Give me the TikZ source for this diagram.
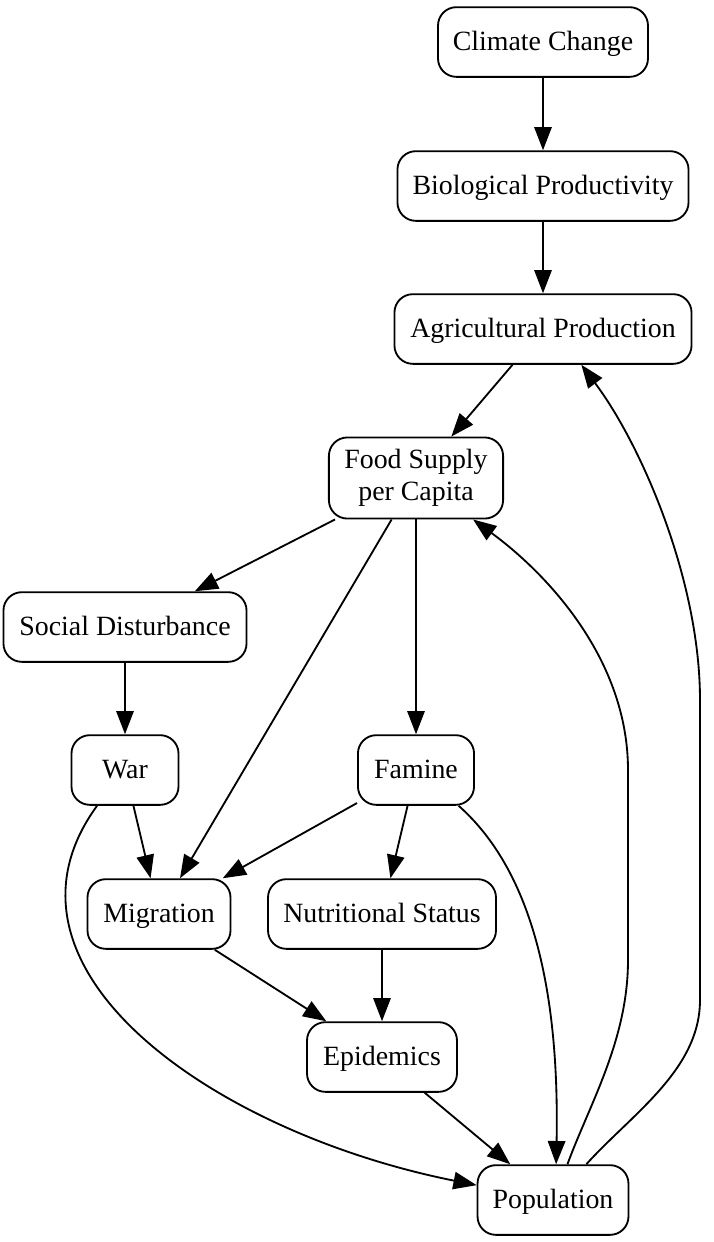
\documentclass[tikz,border=0pt]{standalone}
\usepackage{fontspec}
\setmainfont{Liberation Serif}
\usepackage{tikz}
\usetikzlibrary{arrows.meta,positioning,calc}

\begin{document}
\begin{tikzpicture}[
    x=0.5167pt, y=-0.5167pt,
    factor/.style={draw, rounded corners=9.5pt, minimum height=36pt, minimum width=#1, align=center, font=\fontsize{14.4}{16.5}\selectfont, text height=11.5pt, text depth=2.3pt, line width=0.95pt},
    edge/.style={-{Triangle[length=12pt, width=9pt]}, line width=0.95pt}
]
\useasboundingbox (0,0) rectangle (714,1242);

\node[factor=108.5pt] (climate) at (543,42) {Climate Change};
\node[factor=150.4pt] (bioprod) at (543,186) {Biological Productivity};
\node[factor=153.5pt] (agriprod) at (543,329) {Agricultural Production};
\node[factor=90pt, minimum height=41.9pt, text height=, text depth=] (food) at (416,478) {Food Supply\\per Capita};
\node[factor=125.6pt] (social) at (125,627) {Social Disturbance};
\node[factor=55.3pt] (war) at (125,770) {War};
\node[factor=60pt] (famine) at (416,770) {Famine};
\node[factor=73.9pt] (migration) at (159,914) {Migration};
\node[factor=117.8pt] (nutrition) at (382,914) {Nutritional Status};
\node[factor=77.5pt] (epidemics) at (382,1057) {Epidemics};
\node[factor=78pt] (population) at (553,1200) {Population};

\coordinate (popFoodA) at (628,960);
\coordinate (popFoodB) at (628,770);
\coordinate (popAgriA) at (700,1000);
\coordinate (popAgriB) at (700,700);

\draw[edge] (climate) -- (bioprod);
\draw[edge] (bioprod) -- (agriprod);
\draw[edge] (agriprod) -- (food);
\draw[edge] (food) -- (social);
\draw[edge] (food) -- (migration);
\draw[edge] (food) -- (famine);
\draw[edge] (social) -- (war);
\draw[edge] (war) -- (migration);
\draw[edge] (famine) -- (migration);
\draw[edge] (famine) -- (nutrition);
\draw[edge] (migration) -- (epidemics);
\draw[edge] (nutrition) -- (epidemics);
\draw[edge] (epidemics) -- (population);

% feedback loops
\draw[edge] (war.232) .. controls +(-118,162) and +(-265,-53) .. (population.169);
\draw[edge] (famine.-40) .. controls +(61,54) and +(4,-203) .. (population.85);
\draw[edge] (population.68) .. controls +(22,-60) and +(0,80) .. (popFoodA) -- (popFoodB)
    .. controls +(0,-110) and +(75,55) .. (food.-36);
\draw[edge] (population.47) .. controls +(45,-50) and +(0,70) .. (popAgriA) -- (popAgriB)
    .. controls +(0,-120) and +(60,80) .. (agriprod.-43);
\end{tikzpicture}
\end{document}
